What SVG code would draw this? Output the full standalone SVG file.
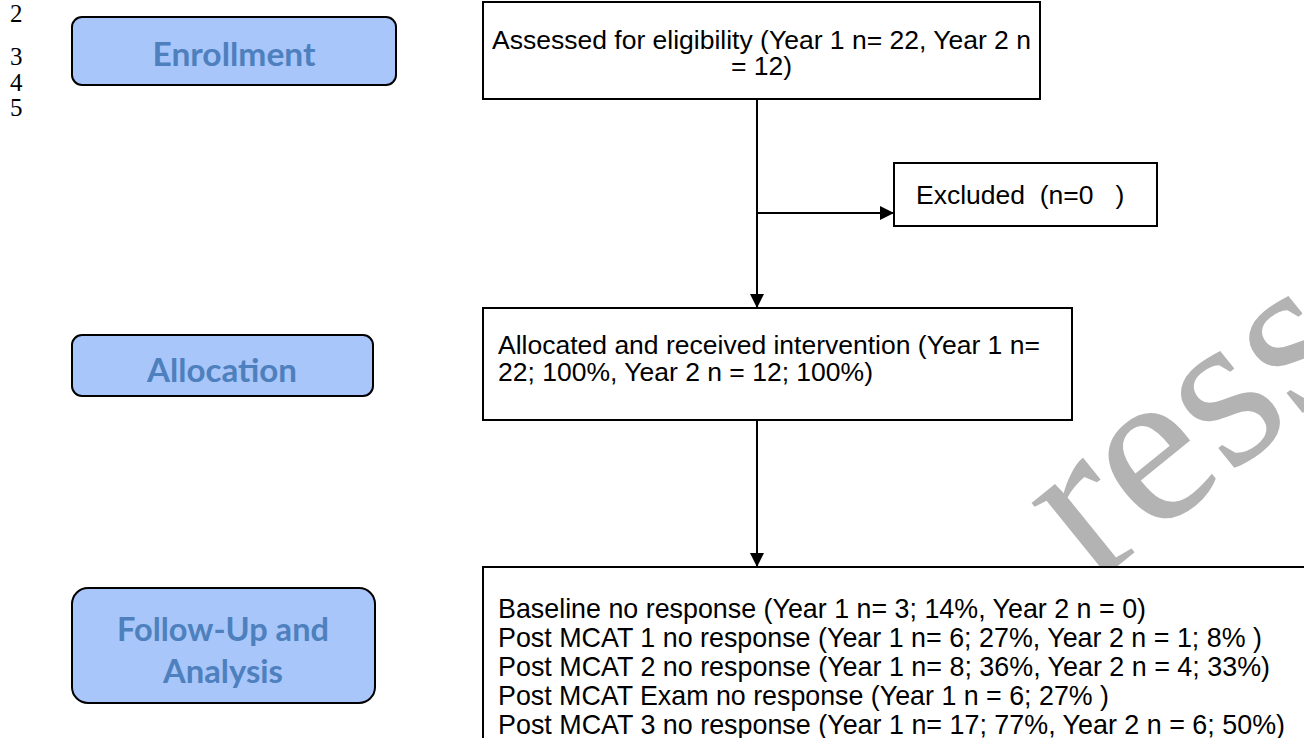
<svg xmlns="http://www.w3.org/2000/svg" width="1304" height="738" viewBox="0 0 1304 738">
  <defs>
    <marker id="arr" markerWidth="14" markerHeight="14" refX="14" refY="7" orient="auto" markerUnits="userSpaceOnUse">
      <path d="M0,0 L14,7 L0,14 Z" fill="#000"/>
    </marker>
  </defs>
  <style>
    .ln { font-family: "Liberation Serif", "Times New Roman", serif; font-size: 25px; fill: #000; }
    .stage rect { fill: #a8c6fa; stroke: #000; stroke-width: 2; }
    .stage text { font-family: Lato, "Open Sans", sans-serif; font-weight: bold; font-size: 33px; fill: #4d80bd; text-anchor: middle; }
    .box rect { fill: #fff; stroke: #000; stroke-width: 2; }
    .box text { font-family: "Liberation Sans", Arial, sans-serif; font-size: 26.5px; fill: #000; }
    .box text.nar { font-size: 28px; }
    .conn line { stroke: #000; stroke-width: 2; }
    .wm { font-family: "Liberation Serif", "Times New Roman", serif; font-size: 225px; fill: #b3b3b3; }
  </style>
  <rect width="1304" height="738" fill="#fff"/>

  <g id="line-numbers">
    <text class="ln" x="10" y="22">2</text>
    <text class="ln" x="10" y="65">3</text>
    <text class="ln" x="10" y="91">4</text>
    <text class="ln" x="10" y="116">5</text>
  </g>

  <text class="wm" transform="translate(1093,586) rotate(-39)">ress</text>

  <g id="enrollment" class="stage">
    <rect x="72" y="17" width="324" height="68" rx="10"/>
    <text x="234" y="66" textLength="163" lengthAdjust="spacingAndGlyphs">Enrollment</text>
  </g>
  <g id="allocation" class="stage">
    <rect x="72" y="335" width="301" height="61" rx="10"/>
    <text x="222" y="382" textLength="150" lengthAdjust="spacingAndGlyphs">Allocation</text>
  </g>
  <g id="followup" class="stage">
    <rect x="72" y="588" width="303" height="115" rx="16"/>
    <text x="223" y="641" textLength="212" lengthAdjust="spacingAndGlyphs">Follow-Up and</text>
    <text x="223" y="683" textLength="120" lengthAdjust="spacingAndGlyphs">Analysis</text>
  </g>

  <g id="assessed" class="box">
    <rect x="483" y="2" width="557" height="97"/>
    <text x="761.5" y="49" text-anchor="middle" font-size="25.5">Assessed for eligibility (Year 1 n= 22, Year 2 n</text>
    <text x="761.5" y="75" text-anchor="middle" font-size="25.5">= 12)</text>
  </g>
  <g id="excluded" class="box">
    <rect x="894" y="163" width="263" height="63"/>
    <text x="916" y="204" xml:space="preserve">Excluded  (n=0   )</text>
  </g>
  <g id="allocated" class="box">
    <rect x="483" y="308" width="589" height="112"/>
    <text x="498" y="354">Allocated and received intervention (Year 1 n=</text>
    <text x="498" y="381">22; 100%, Year 2 n = 12; 100%)</text>
  </g>
  <g id="followup-results" class="box">
    <rect x="483" y="567" width="900" height="300"/>
    <text class="nar" x="498" y="618" textLength="648" lengthAdjust="spacingAndGlyphs">Baseline no response (Year 1 n= 3; 14%, Year 2 n = 0)</text>
    <text class="nar" x="498" y="647" textLength="764" lengthAdjust="spacingAndGlyphs">Post MCAT 1 no response (Year 1 n= 6; 27%, Year 2 n = 1; 8% )</text>
    <text class="nar" x="498" y="676" textLength="772" lengthAdjust="spacingAndGlyphs">Post MCAT 2 no response (Year 1 n= 8; 36%, Year 2 n = 4; 33%)</text>
    <text class="nar" x="498" y="705" textLength="611" lengthAdjust="spacingAndGlyphs">Post MCAT Exam no response (Year 1 n = 6; 27% )</text>
    <text class="nar" x="498" y="734" textLength="787" lengthAdjust="spacingAndGlyphs">Post MCAT 3 no response (Year 1 n= 17; 77%, Year 2 n = 6; 50%)</text>
  </g>

  <g id="connectors" class="conn">
    <line x1="757" y1="99" x2="757" y2="308" marker-end="url(#arr)"/>
    <line x1="757" y1="213" x2="894" y2="213" marker-end="url(#arr)"/>
    <line x1="757" y1="420" x2="757" y2="567" marker-end="url(#arr)"/>
  </g>
</svg>
